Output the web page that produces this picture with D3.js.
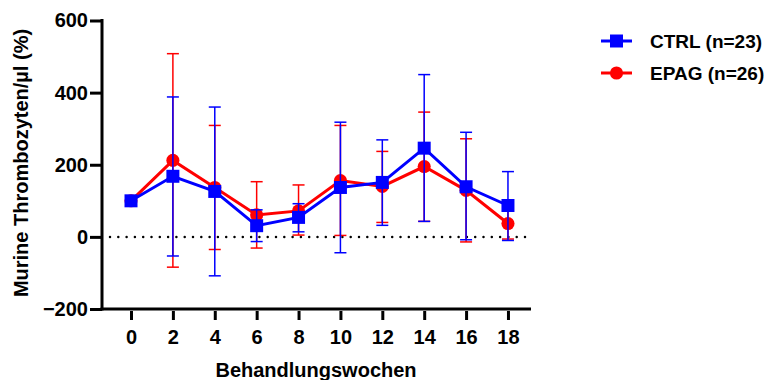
<!DOCTYPE html>
<html>
<head>
<meta charset="utf-8">
<script src="https://cdn.jsdelivr.net/npm/d3@7"></script>
<style>
  body { margin: 0; background: #fff; }
</style>
</head>
<body>
<svg id="main_chart" width="773" height="380"></svg>
<script>
// data
const weeks = [0, 2, 4, 6, 8, 10, 12, 14, 16, 18];
const yTicks = [-200, 0, 200, 400, 600];

const ctrlMean = [100, 168, 126, 31, 54, 137, 151, 246, 139, 87];
const ctrlHigh = [100, 388, 360, 75, 92, 318, 269, 450, 290, 181];
const ctrlLow  = [100, -53, -108, -13, 14, -44, 32, 43, -8, -10];

const epagMean = [100, 212, 137, 61, 72, 156, 140, 195, 129, 37];
const epagHigh = [100, 508, 309, 153, 144, 309, 237, 346, 272, 80];
const epagLow  = [100, -84, -35, -31, 5, 4, 40, 43, -14, -6];

const series = [
    { name: "EPAG (n=26)", color: "#ff0000", symbol: d3.symbolCircle, size: 135, mean: epagMean, high: epagHigh, low: epagLow },
    { name: "CTRL (n=23)", color: "#0000ff", symbol: d3.symbolSquare, size: 169, mean: ctrlMean, high: ctrlHigh, low: ctrlLow }
];

const FONT = "Arial, 'Liberation Sans', sans-serif";

let svg = d3.select("#main_chart");

let xScale = d3.scaleLinear()
    .domain([-1.385, 19.1])
    .range([102, 531]);

let yScale = d3.scaleLinear()
    .domain([-200, 600])
    .range([309, 20.5]);

// dotted zero line
svg.append("line")
    .attr("x1", 110).attr("x2", 531)
    .attr("y1", yScale(0)).attr("y2", yScale(0))
    .attr("stroke", "#000")
    .attr("stroke-width", 2.5)
    .attr("stroke-dasharray", "0 8.3")
    .attr("stroke-linecap", "round");

// series: red first, blue on top
series.forEach(s => {
    let g = svg.append("g");
    let rows = weeks.map((w, i) => ({ w: w, m: s.mean[i], hi: s.high[i], lo: s.low[i] }));

    let bars = g.selectAll("g.err")
        .data(rows.filter(d => d.hi !== d.lo))
        .enter().append("g")
        .attr("class", "err")
        .attr("stroke", s.color)
        .attr("stroke-width", 1.5);
    bars.append("line")
        .attr("x1", d => xScale(d.w)).attr("x2", d => xScale(d.w))
        .attr("y1", d => yScale(d.hi)).attr("y2", d => yScale(d.lo));
    bars.append("line")
        .attr("x1", d => xScale(d.w) - 6).attr("x2", d => xScale(d.w) + 6)
        .attr("y1", d => yScale(d.hi)).attr("y2", d => yScale(d.hi));
    bars.append("line")
        .attr("x1", d => xScale(d.w) - 6).attr("x2", d => xScale(d.w) + 6)
        .attr("y1", d => yScale(d.lo)).attr("y2", d => yScale(d.lo));

    g.append("path")
        .datum(rows)
        .attr("fill", "none")
        .attr("stroke", s.color)
        .attr("stroke-width", 3)
        .attr("d", d3.line().x(d => xScale(d.w)).y(d => yScale(d.m)));

    g.selectAll("path.point")
        .data(rows)
        .enter().append("path")
        .attr("class", "point")
        .attr("d", d3.symbol().type(s.symbol).size(s.size))
        .attr("fill", s.color)
        .attr("transform", d => "translate(" + xScale(d.w) + "," + yScale(d.m) + ")");
});

// axes
let yAxis = svg.append("g")
    .attr("transform", "translate(102,0)")
    .call(d3.axisLeft(yScale).tickValues(yTicks).tickSize(12).tickPadding(2).tickSizeOuter(0));
let xAxis = svg.append("g")
    .attr("transform", "translate(0,309)")
    .call(d3.axisBottom(xScale).tickValues(weeks).tickSize(11).tickPadding(10).tickSizeOuter(0));

[yAxis, xAxis].forEach(a => {
    a.attr("font-family", null).attr("font-size", null);
    a.select(".domain").attr("stroke", "#000").attr("stroke-width", 3);
    a.selectAll(".tick line").attr("stroke", "#000").attr("stroke-width", 3);
    a.selectAll(".tick text").attr("fill", "#000");
});
yAxis.select(".domain").attr("d", "M0,19V310.5");
xAxis.select(".domain").attr("d", "M100.5,0H531");
xAxis.selectAll(".tick line").attr("y1", 2);

// axis titles
svg.append("text")
    .attr("class", "lbl")
    .attr("x", 316).attr("y", 377)
    .attr("text-anchor", "middle")
    .text("Behandlungswochen");

svg.append("text")
    .attr("class", "lbl")
    .attr("transform", "translate(28,163) rotate(-90)")
    .attr("text-anchor", "middle")
    .text("Murine Thrombozyten/µl (%)");

// legend
let legend = svg.append("g");
series.slice().reverse().forEach((s, i) => {
    let ly = 41 + i * 32;
    legend.append("line")
        .attr("x1", 601).attr("x2", 632)
        .attr("y1", ly).attr("y2", ly)
        .attr("stroke", s.color).attr("stroke-width", 3);
    legend.append("path")
        .attr("d", d3.symbol().type(s.symbol).size(s.size))
        .attr("fill", s.color)
        .attr("transform", "translate(616.5," + ly + ")");
    legend.append("text")
        .attr("class", "leg")
        .attr("x", 650).attr("y", ly + 7)
        .text(s.name);
});

svg.selectAll("text")
    .style("font-family", FONT)
    .style("font-weight", "700")
    .style("font-size", "20px");
svg.selectAll("text.leg").style("font-size", "19px");
</script>
</body>
</html>
